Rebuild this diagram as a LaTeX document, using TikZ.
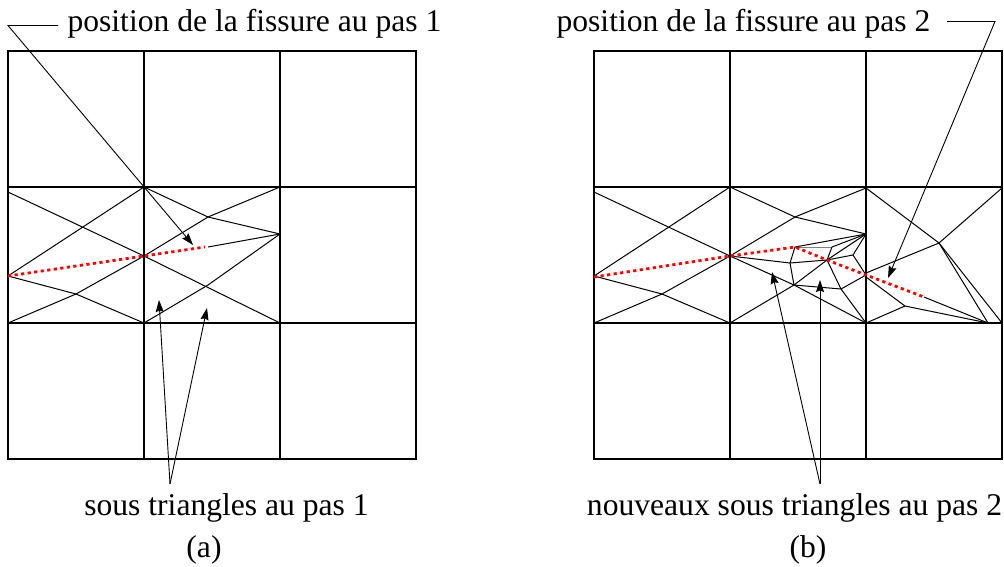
\documentclass[tikz,border=0pt]{standalone}
\usepackage{fontspec}
\setmainfont{Liberation Serif}
\usetikzlibrary{arrows.meta,positioning}
\tikzset{
  gridline/.style={line width=1.7pt},
  meshline/.style={line width=1pt},
  leaderline/.style={line width=0.9pt},
  arrowline/.style={leaderline, -{Stealth[length=12pt, width=8pt, inset=1.5pt]}},
  crackline/.style={red, line width=2.8pt, dash pattern=on 3.2pt off 3.4pt},
  labeltext/.style={font=\fontsize{31.6}{34}\selectfont, inner sep=0pt, anchor=base}
}
\begin{document}
\begin{tikzpicture}[x=1pt, y=-1pt]
    \useasboundingbox (0, 0) rectangle (1004, 566);

    % Grids
    \foreach \ox in {8, 594} {
        \draw[gridline] (\ox, 51) rectangle (\ox+408, 459);
        \foreach \i in {136, 272} {
            \draw[gridline] (\ox+\i, 51) -- (\ox+\i, 459);
            \draw[gridline] (\ox, 51+\i) -- (\ox+408, 51+\i);
        }
    }

    % Left cell, same in both meshes
    \foreach \ox in {8, 594} {
        \draw[meshline] (\ox, 192) -- (\ox+136, 256);
        \draw[meshline] (\ox, 276) -- (\ox+136, 187);
        \draw[meshline] (\ox, 276) -- (\ox+68, 294) -- (\ox+136, 323);
        \draw[meshline] (\ox, 323) -- (\ox+68, 294) -- (\ox+136, 256);
    }

    % Step 1, middle cell
    \draw[meshline] (144, 256) -- (280, 323);
    \draw[meshline] (144, 256) -- (208, 217) -- (280, 187);
    \draw[meshline] (144, 187) -- (208, 217) -- (280, 234);
    \draw[meshline] (144, 323) -- (208, 285) -- (280, 234);
    \draw[meshline] (208, 247) -- (280, 234);

    % Step 2, middle cell
    \draw[meshline] (730, 187) -- (795, 217) -- (866, 234);
    \draw[meshline] (730, 256) -- (795, 217) -- (866, 188);
    \draw[meshline] (730, 256) -- (790, 263) -- (827, 260) -- (853, 255) -- (866, 234);
    \draw[meshline] (730, 256) -- (794, 285) -- (866, 323);
    \draw[meshline] (730, 323) -- (794, 285) -- (827, 260) -- (866, 234);
    \draw[meshline] (795, 247) -- (866, 234);
    \draw[meshline] (832, 247) -- (866, 234);
    \draw[meshline, gray] (795, 247) -- (832, 247);
    \draw[meshline] (795, 247) -- (790, 263) -- (794, 285) -- (841, 289) -- (827, 260) -- (832, 247);
    \draw[meshline] (841, 289) -- (866, 275);
    \draw[meshline] (841, 289) -- (866, 323);
    \draw[meshline] (853, 255) -- (866, 275);

    % Step 2, right cell
    \draw[meshline] (866, 188) -- (939, 243) -- (1002, 188);
    \draw[meshline] (866, 273) -- (939, 243) -- (988, 323);
    \draw[meshline] (939, 243) -- (1002, 323);
    \draw[meshline] (866, 277) -- (905, 306) -- (988, 323);
    \draw[meshline] (866, 323) -- (905, 306);
    \draw[meshline] (924, 297) -- (988, 323);

    % Cracks
    \draw[crackline] (8, 276) -- (144, 256) -- (205, 247);
    \draw[crackline] (594, 277) -- (730, 256) -- (795, 247) -- (827, 260) -- (866, 275) -- (924, 297);

    % Labels
    \node[labeltext] (pos1) at (254.5, 31) {position de la fissure au pas 1};
    \node[labeltext] (pos2) at (743.5, 31) {position de la fissure au pas 2};
    \node[labeltext] (sub1) at (226.5, 515) {sous triangles au pas 1};
    \node[labeltext] (sub2) at (794.5, 515) {nouveaux sous triangles au pas 2};
    \node[labeltext] (capa) at (204, 557) {(a)};
    \node[labeltext] (capb) at (808, 557) {(b)};

    % Leaders
    \coordinate (bend1) at (8, 25.5);
    \coordinate (bend2) at (995, 21.5);
    \coordinate (tip1) at (193, 245);
    \coordinate (tip2) at (888, 278);
    \coordinate (fork1) at (170, 484);
    \coordinate (fork2) at (820, 484);
    \draw[arrowline] (58, 25.5) -- (bend1) -- (tip1);
    \draw[arrowline] (947, 21.5) -- (bend2) -- (tip2);
    \draw[arrowline] (fork1) -- (159, 300);
    \draw[arrowline] (fork1) -- (207, 308);
    \draw[arrowline] (fork2) -- (772, 272);
    \draw[arrowline] (fork2) -- (820, 280);
\end{tikzpicture}
\end{document}
